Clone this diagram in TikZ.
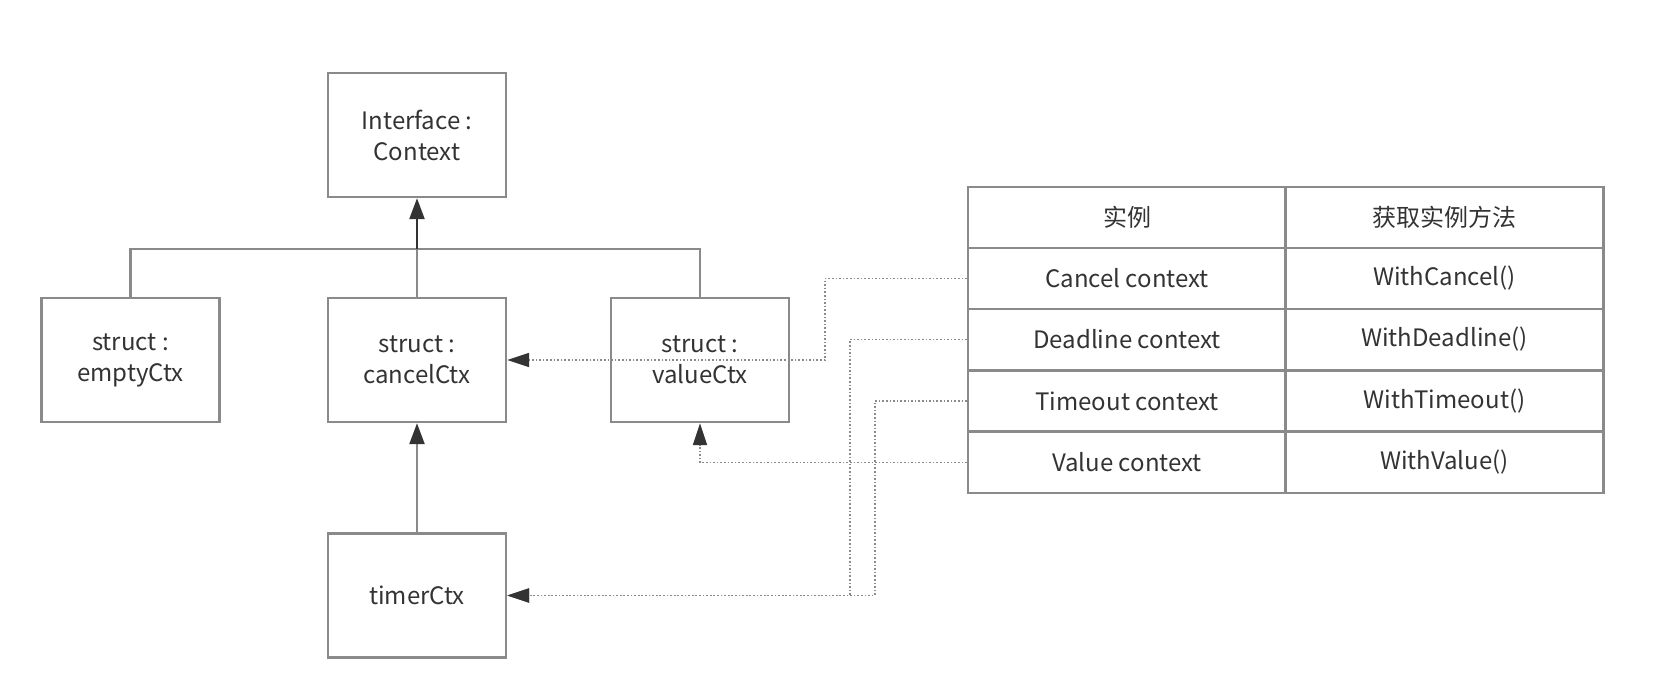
\documentclass[tikz,border=0pt]{standalone}
\usepackage{fontspec}
\setmainfont{Noto Sans CJK SC}
\usetikzlibrary{arrows.meta}
\definecolor{edge}{HTML}{8A8A8A}
\definecolor{ink}{HTML}{333333}

\begin{document}
\begin{tikzpicture}[x=0.5pt, y=-0.5pt,
        every node/.style={text=ink, font=\fontsize{12}{15.5}\selectfont},
        box/.style={draw=edge, line width=1.2pt, minimum width=89pt, minimum height=62pt, align=center, inner sep=0pt},
        cell/.style={draw=edge, line width=1.2pt, minimum width=159pt, minimum height=30.5pt, inner sep=0pt},
        line/.style={draw=edge, line width=1.2pt},
        arr/.style={line, -{Triangle[length=10.5pt, width=7.5pt, color=ink]}},
        dep/.style={draw=edge, line width=0.9pt, dash pattern=on 0.8pt off 1pt, -{Triangle[length=11pt, width=7pt, color=ink]}}]
        \useasboundingbox (0,0) rectangle (1670,674);

        \node[box] at (417,135)     (Interface)  {Interface :\\Context};
        \node[box] at (130.5,360)   (emptyCtx)   {struct :\\emptyCtx};
        \node[box] at (417,360)     (cancelCtx)  {struct :\\cancelCtx};
        \node[box] at (700,360)     (valueCtx)   {struct :\\valueCtx};
        \node[box] at (417,595.5)   (timerCtx)   {timerCtx};
        \coordinate (bus) at (417,249);

        \node[cell] at (1127,217.5)    (h1)  {实例};
        \node[cell] at (1444.5,217.5)  (h2)  {获取实例方法};
        \node[cell] at (1127,278.5)    (cancel)    {Cancel context};
        \node[cell] at (1444.5,278.5)  (withcancel)   {WithCancel()};
        \node[cell] at (1127,339.5)    (deadline)  {Deadline context};
        \node[cell] at (1444.5,339.5)  (withdeadline) {WithDeadline()};
        \node[cell] at (1127,401)      (timeout)   {Timeout context};
        \node[cell] at (1444.5,401)    (withtimeout)  {WithTimeout()};
        \node[cell] at (1127,462.5)    (value)     {Value context};
        \node[cell] at (1444.5,462.5)  (withvalue)    {WithValue()};

        \draw[line] (emptyCtx.north) |- (bus) -| (valueCtx.north);
        \draw[line] (cancelCtx.north) -- (bus);
        \draw[arr, draw=ink] (bus) -- (Interface.south);
        \draw[arr] (timerCtx.north) -- (cancelCtx.south);

        \draw[dep] (cancel.west) -- ++(-142,0) |- (cancelCtx.east);
        \draw[dep] (deadline.west) -- ++(-117,0) |- (timerCtx.east);
        \draw[dep] (timeout.west) -- ++(-92,0) |- (timerCtx.east);
        \draw[dep] (value.west) -| (valueCtx.south);
    \end{tikzpicture}
\end{document}
